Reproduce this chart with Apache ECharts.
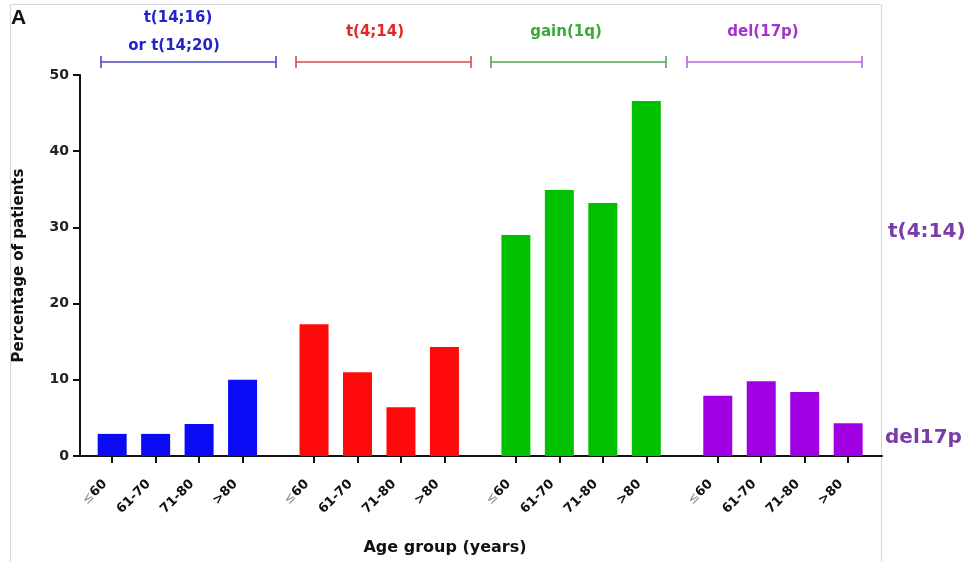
<!DOCTYPE html>
<html>
<head>
<meta charset="utf-8">
<script src="https://cdn.jsdelivr.net/npm/echarts@6/dist/echarts.min.js"></script>
<style>
  html, body { margin: 0; padding: 0; background: #ffffff; }
  #chart { width: 968px; height: 562px; }
</style>
</head>
<body>
<div id="chart"></div>
<script>
// Age groups shown under every cluster of bars
const ageGroups = ['≤60', '61-70', '71-80', '>80'];

// Cytogenetic abnormality groups (one cluster each)
const groupNames = ['t(14;16) or t(14;20)', 't(4;14)', 'gain(1q)', 'del(17p)'];

// Percentage of patients per age group
const t1416Values = [2.9, 2.9, 4.2, 10.0];
const t414Values = [17.3, 11.0, 6.4, 14.3];
const gain1qValues = [29.0, 34.9, 33.2, 46.6];
const del17pValues = [7.9, 9.8, 8.4, 4.3];

// Y axis ticks
const yTicks = [0, 10, 20, 30, 40, 50];

const groupValues = [t1416Values, t414Values, gain1qValues, del17pValues];
const barColors = ['#0a0af5', '#ff0a0a', '#00c000', '#a200e4'];
const FONT = '"DejaVu Sans", Verdana, sans-serif';

// Clusters sit a little more than four bar slots apart
const GROUP_STEP = 4.644;
const slot = (g, i) => g * GROUP_STEP + i;

const positions = [];
const positionLabels = [];
const barData = [];
groupValues.forEach((vals, g) => {
  vals.forEach((v, i) => {
    const x = slot(g, i);
    positions.push(x);
    positionLabels.push(ageGroups[i]);
    barData.push({ value: [x, v], itemStyle: { color: barColors[g] } });
  });
});

function labelFor(value) {
  let best = 0;
  for (let k = 1; k < positions.length; k++) {
    if (Math.abs(positions[k] - value) < Math.abs(positions[best] - value)) best = k;
  }
  const txt = positionLabels[best];
  if (txt.charAt(0) === '≤') return '{le|≤}' + txt.slice(1);
  return txt;
}

const chart = echarts.init(document.getElementById('chart'), null, { renderer: 'canvas' });

// Bracket annotations above each cluster
const brackets = [
  { x1: 101, x2: 276, color: '#4a4ac4' },
  { x1: 296, x2: 471, color: '#d84a4a' },
  { x1: 491, x2: 666, color: '#4ea84e' },
  { x1: 687, x2: 862, color: '#b464d8' }
];
const bracketY = 62;
const bracketGraphics = [];
brackets.forEach(b => {
  const style = { stroke: b.color, lineWidth: 1.6 };
  bracketGraphics.push({ type: 'line', shape: { x1: b.x1, y1: bracketY, x2: b.x2, y2: bracketY }, style });
  bracketGraphics.push({ type: 'line', shape: { x1: b.x1, y1: bracketY - 6, x2: b.x1, y2: bracketY + 6 }, style });
  bracketGraphics.push({ type: 'line', shape: { x1: b.x2, y1: bracketY - 6, x2: b.x2, y2: bracketY + 6 }, style });
});

function headText(text, x, y, color) {
  return {
    type: 'text', x: x, y: y,
    style: { text: text, fill: color, font: 'bold 15px ' + FONT, align: 'center', verticalAlign: 'middle' }
  };
}

const option = {
  backgroundColor: '#ffffff',
  animation: false,
  grid: { left: 80, right: 86, top: 75, bottom: 106, containLabel: false },
  xAxis: {
    type: 'value',
    min: -0.74,
    max: 17.71,
    splitLine: { show: false },
    axisLine: { show: true, onZero: false, lineStyle: { color: '#111', width: 2 } },
    axisTick: { show: true, customValues: positions, length: 7, lineStyle: { color: '#111', width: 2 } },
    axisLabel: {
      customValues: positions,
      rotate: 45,
      margin: 19,
      padding: [0, 10, 0, 0],
      formatter: labelFor,
      color: '#111',
      fontFamily: FONT,
      fontWeight: 'bold',
      fontSize: 13,
      rich: {
        le: { color: '#8a8a8a', fontFamily: FONT, fontSize: 13, fontWeight: 'normal' }
      }
    }
  },
  yAxis: {
    type: 'value',
    min: 0,
    max: 50,
    interval: 10,
    name: 'Percentage of patients',
    nameLocation: 'middle',
    nameGap: 53,
    nameTextStyle: { color: '#111', fontFamily: FONT, fontWeight: 'bold', fontSize: 15 },
    splitLine: { show: false },
    axisLine: { show: true, onZero: false, lineStyle: { color: '#111', width: 2 } },
    axisTick: { show: true, length: 7, lineStyle: { color: '#111', width: 2 } },
    axisLabel: {
      margin: 11,
      color: '#222',
      fontFamily: FONT,
      fontWeight: 'bold',
      fontSize: 14,
      formatter: v => (yTicks.indexOf(v) >= 0 ? String(v) : '')
    }
  },
  series: [{
    type: 'bar',
    name: groupNames.join(' / '),
    barWidth: 29,
    data: barData
  }],
  graphic: [
    {
      type: 'rect', z: -10,
      shape: { x: 10.5, y: 4.5, width: 871, height: 600 },
      style: { fill: 'none', stroke: '#d6d6d6', lineWidth: 1 }
    },
    {
      type: 'text', x: 11, y: 8,
      style: { text: 'A', fill: '#111', font: 'bold 21px "Liberation Sans", Arial, sans-serif' }
    },
    headText('t(14;16)', 178, 18, '#2424cc'),
    headText('or t(14;20)', 174, 46, '#2424cc'),
    headText('t(4;14)', 375, 32, '#e02828'),
    headText('gain(1q)', 566, 32, '#3aaa3a'),
    headText('del(17p)', 763, 32, '#a234cc'),
    ...bracketGraphics,
    {
      type: 'text', x: 445, y: 548,
      style: { text: 'Age group (years)', fill: '#111', font: 'bold 16px ' + FONT, align: 'center', verticalAlign: 'middle' }
    },
    {
      type: 'text', x: 888, y: 232,
      style: { text: 't(4:14)', fill: '#7a3cab', font: 'bold 20px ' + FONT, verticalAlign: 'middle' }
    },
    {
      type: 'text', x: 885, y: 438,
      style: { text: 'del17p', fill: '#7a3cab', font: 'bold 20px ' + FONT, verticalAlign: 'middle' }
    }
  ]
};

chart.setOption(option);
</script>
</body>
</html>
